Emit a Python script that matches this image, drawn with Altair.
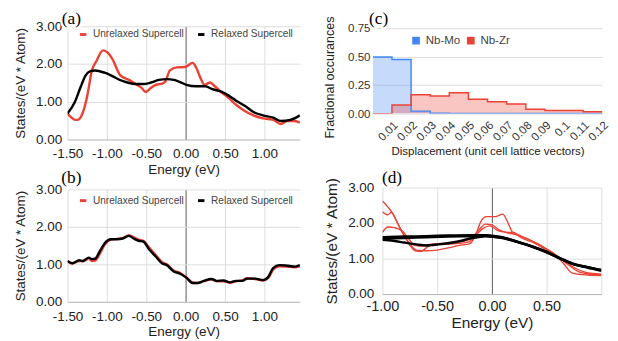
import altair as alt
import pandas as pd

FONT = "Liberation Sans"
SERIF = "Liberation Serif"
RED = "#ea4335"
BLUE = "#4285f4"
BLACK = "#000000"

# ---------------- panel (a) ----------------
a_unrel_E = [-1.50, -1.45, -1.40, -1.37, -1.33, -1.29, -1.25, -1.19, -1.13, -1.05, -0.99, -0.93, -0.83, -0.72,
             -0.62, -0.56, -0.51, -0.44, -0.38, -0.30, -0.26, -0.20, -0.11, -0.01, 0.09, 0.13, 0.19, 0.24, 0.31,
             0.37, 0.46, 0.54, 0.64, 0.74, 0.86, 0.98, 1.11, 1.21, 1.29, 1.37, 1.45]
a_unrel_V = [0.69, 0.58, 0.52, 0.52, 0.60, 0.81, 1.15, 1.83, 2.09, 2.36, 2.30, 2.13, 1.70, 1.58,
             1.45, 1.37, 1.26, 1.37, 1.45, 1.48, 1.53, 1.83, 1.91, 1.92, 2.03, 1.92, 1.62, 1.45, 1.51,
             1.41, 1.24, 1.11, 0.92, 0.77, 0.64, 0.56, 0.52, 0.41, 0.49, 0.49, 0.45]
a_rel_E = [-1.50, -1.41, -1.33, -1.27, -1.21, -1.15, -1.03, -0.95, -0.85, -0.74, -0.64, -0.54, -0.44, -0.34,
           -0.24, -0.15, -0.07, 0.01, 0.13, 0.25, 0.33, 0.46, 0.54, 0.64, 0.76, 0.86, 0.98, 1.11, 1.21, 1.33, 1.45]
a_rel_V = [0.69, 0.98, 1.41, 1.70, 1.81, 1.83, 1.77, 1.70, 1.59, 1.51, 1.47, 1.47, 1.51, 1.58,
           1.60, 1.58, 1.52, 1.45, 1.41, 1.41, 1.34, 1.26, 1.17, 1.03, 0.88, 0.73, 0.64, 0.58, 0.49, 0.52, 0.64]

# ---------------- panel (b) ----------------
b_E = [-1.50, -1.44, -1.35, -1.31, -1.28, -1.23, -1.19, -1.15, -1.09, -1.03, -0.95, -0.87, -0.80, -0.72,
       -0.66, -0.60, -0.54, -0.46, -0.38, -0.30, -0.24, -0.15, -0.07, 0.01, 0.09, 0.15, 0.23, 0.33, 0.39,
       0.48, 0.56, 0.64, 0.72, 0.78, 0.88, 0.98, 1.05, 1.11, 1.19, 1.27, 1.39, 1.45]
b_rel_V = [1.09, 1.03, 1.11, 1.09, 1.12, 1.18, 1.14, 1.15, 1.35, 1.56, 1.67, 1.67, 1.69, 1.76,
           1.69, 1.63, 1.61, 1.39, 1.21, 1.03, 0.98, 0.81, 0.75, 0.64, 0.50, 0.50, 0.56, 0.61, 0.56,
           0.57, 0.52, 0.56, 0.56, 0.62, 0.62, 0.58, 0.67, 0.90, 0.98, 0.97, 0.94, 0.98]
b_unrel_V = [1.08, 1.02, 1.09, 1.08, 1.10, 1.16, 1.09, 1.10, 1.28, 1.52, 1.66, 1.68, 1.70, 1.78,
             1.72, 1.66, 1.63, 1.44, 1.25, 1.06, 1.00, 0.83, 0.77, 0.65, 0.51, 0.50, 0.55, 0.60, 0.55,
             0.55, 0.51, 0.55, 0.57, 0.63, 0.61, 0.57, 0.64, 0.86, 0.95, 0.94, 0.92, 0.95]

# ---------------- panel (c) ----------------
c_disp = [0.01, 0.02, 0.03, 0.04, 0.05, 0.06, 0.07, 0.08, 0.09, 0.10, 0.11, 0.12]
c_nbmo = [0.497, 0.475, 0.022, 0.003, 0.002, 0.002, 0.002, 0.002, 0.002, 0.002, 0.002, 0.002]
c_nbzr = [0.0, 0.076, 0.166, 0.155, 0.183, 0.126, 0.104, 0.084, 0.039, 0.028, 0.028, 0.017]

# ---------------- panel (d) ----------------
d_red1_E = [-1.0, -0.95, -0.9, -0.85, -0.8, -0.75, -0.7, -0.65, -0.6, -0.55, -0.5, -0.4, -0.3, -0.2, -0.12,
            -0.06, 0.0, 0.07, 0.15, 0.2, 0.3, 0.4, 0.5, 0.6, 0.7, 0.78, 0.85, 0.92, 1.0]
d_red1_V = [2.62, 2.45, 2.24, 1.92, 1.64, 1.38, 1.22, 1.20, 1.30, 1.40, 1.42, 1.43, 1.47, 1.55, 1.80,
            1.97, 1.95, 1.80, 1.72, 1.69, 1.58, 1.44, 1.26, 1.07, 0.85, 0.70, 0.62, 0.58, 0.56]
d_red2_E = [-1.0, -0.95, -0.92, -0.87, -0.81, -0.75, -0.69, -0.6, -0.5, -0.4, -0.3, -0.2, -0.15, -0.1, -0.05,
            0.03, 0.1, 0.14, 0.19, 0.26, 0.38, 0.49, 0.58, 0.66, 0.73, 0.82, 1.0]
d_red2_V = [2.32, 2.23, 2.30, 2.05, 1.69, 1.41, 1.24, 1.22, 1.24, 1.30, 1.37, 1.42, 1.65, 2.05, 2.18,
            2.18, 2.25, 2.05, 1.74, 1.65, 1.47, 1.29, 1.11, 0.84, 0.60, 0.55, 0.52]
d_red3_E = [-1.0, -0.95, -0.89, -0.82, -0.76, -0.71, -0.65, -0.57, -0.45, -0.3, -0.21, -0.15, -0.08, -0.02,
            0.06, 0.14, 0.2, 0.26, 0.38, 0.5, 0.6, 0.7, 0.8, 0.9, 1.0]
d_red3_V = [1.74, 1.89, 1.87, 1.78, 1.56, 1.38, 1.35, 1.40, 1.40, 1.43, 1.47, 1.65, 1.85, 1.92,
            1.78, 1.74, 1.74, 1.60, 1.45, 1.24, 1.06, 0.82, 0.62, 0.56, 0.54]
d_blk1_E = [-1.0, -0.8, -0.6, -0.4, -0.2, -0.06, 0.0, 0.11, 0.23, 0.38, 0.49, 0.61, 0.73, 0.87, 1.0]
d_blk1_V = [1.60, 1.62, 1.63, 1.65, 1.66, 1.66, 1.64, 1.59, 1.48, 1.33, 1.20, 1.03, 0.87, 0.76, 0.67]
d_blk2_E = [-1.0, -0.9, -0.8, -0.69, -0.6, -0.49, -0.31, -0.19, -0.06, 0.0, 0.11, 0.23, 0.38, 0.49, 0.61,
            0.73, 0.87, 1.0]
d_blk2_V = [1.53, 1.50, 1.45, 1.40, 1.37, 1.40, 1.48, 1.57, 1.63, 1.62, 1.57, 1.47, 1.32, 1.19, 1.02,
            0.86, 0.75, 0.66]
d_blk3_E = [-1.0, -0.8, -0.6, -0.4, -0.2, -0.06, 0.0, 0.11, 0.23, 0.38, 0.49, 0.61, 0.73, 0.87, 1.0]
d_blk3_V = [1.56, 1.58, 1.60, 1.62, 1.63, 1.64, 1.62, 1.58, 1.47, 1.33, 1.20, 1.02, 0.86, 0.76, 0.68]

panel_labels = ["(a)", "(b)", "(c)", "(d)"]
dos_series = ["Unrelaxed Supercell", "Relaxed Supercell"]
comp_series = ["Nb-Mo", "Nb-Zr"]

MINUS_FIX = "replace(datum.label, '\u2212', '-')"
GRID = {"condition": {"test": "datum.value === 0", "value": "#555555"}, "value": "#dcdcdc"}
YGRID = {"condition": {"test": "datum.value === 0", "value": "#b0b0b0"}, "value": "#dcdcdc"}


def line_df(E, V, name):
    return pd.DataFrame({"E": E, "v": V, "series": name})


def label_layers(text, x, y):
    df = pd.DataFrame({"t": [text]})
    halo = alt.Chart(df).mark_text(font=SERIF, fontSize=18, stroke="white", strokeWidth=5,
                                   fill="white").encode(text="t:N", x=alt.value(x), y=alt.value(y))
    txt = alt.Chart(df).mark_text(font=SERIF, fontSize=18, color="#000").encode(
        text="t:N", x=alt.value(x), y=alt.value(y))
    return [halo, txt]


def dos_panel(E_un, V_un, E_re, V_re, label, width, height, ydom, leg_y, lab_y):
    xscale = alt.Scale(domain=[-1.5, 1.45], nice=False, zero=False)
    yscale = alt.Scale(domain=ydom, nice=False)
    xaxis = alt.Axis(values=[-1.5, -1, -0.5, 0, 0.5, 1], format=".2f", labelExpr=MINUS_FIX,
                     title="Energy (eV)", grid=True, gridColor=GRID, ticks=False, domain=False,
                     labelFontSize=14, titleFontSize=14, labelPadding=8, titlePadding=2,
                     labelColor="#222", titleColor="#222", titleFontWeight="normal",
                     labelFont=FONT, titleFont=FONT, labelFlush=False, labelOverlap=False)
    yaxis = alt.Axis(values=[0, 1, 2, 3], format=".2f", title="States/(eV * Atom)", grid=True,
                     gridColor=YGRID, ticks=False, domain=False, labelFontSize=14, titleFontSize=14,
                     labelPadding=6, titlePadding=9, labelColor="#222", titleColor="#222",
                     titleFontWeight="normal", labelFont=FONT, titleFont=FONT, labelOverlap=False)
    color = alt.Color("series:N", scale=alt.Scale(domain=dos_series, range=[RED, BLACK]),
                      legend=alt.Legend(orient="none", legendX=11, legendY=leg_y, direction="horizontal",
                                        title=None, symbolType="stroke", symbolStrokeWidth=3,
                                        symbolSize=45, labelFontSize=10.5, labelFont=FONT,
                                        labelColor="#444", columnPadding=7, labelOffset=5))
    red = alt.Chart(line_df(E_un, V_un, dos_series[0])).mark_line(
        strokeWidth=2.5, interpolate="monotone", clip=True).encode(
        x=alt.X("E:Q", scale=xscale, axis=xaxis), y=alt.Y("v:Q", scale=yscale, axis=yaxis), color=color)
    blk = alt.Chart(line_df(E_re, V_re, dos_series[1])).mark_line(
        strokeWidth=2.5, interpolate="monotone", clip=True).encode(
        x=alt.X("E:Q", scale=xscale, axis=xaxis), y=alt.Y("v:Q", scale=yscale, axis=yaxis), color=color)
    return alt.layer(red, blk, *label_layers(label, 4, lab_y)).properties(width=width, height=height)


a = dos_panel(a_unrel_E, a_unrel_V, a_rel_E, a_rel_V, panel_labels[0], 242, 118, [0, 3], 3, -7)
b = dos_panel(b_E, b_unrel_V, b_E, b_rel_V, panel_labels[1], 242, 117, [0, 3], 6, -12)

# ---- panel (c) step areas
rows = []
for name, vals in zip(comp_series, [c_nbmo, c_nbzr]):
    for i, dv in enumerate(c_disp):
        rows.append({"x": round(dv - 0.01, 2), "v": vals[i], "series": name})
    rows.append({"x": c_disp[-1], "v": vals[-1], "series": name})
dfc = pd.DataFrame(rows)

c_area = alt.Chart(dfc).mark_area(interpolate="step-after", fillOpacity=0.3,
                                  line={"strokeWidth": 1.5}, clip=True).encode(
    x=alt.X("x:Q", scale=alt.Scale(domain=[0, 0.12], nice=False, zero=False),
            axis=alt.Axis(values=c_disp, format="~g", labelAngle=-45, title="Displacement (unit cell lattice vectors)",
                          grid=False, ticks=False, domain=False, labelFontSize=12, titleFontSize=12,
                          labelPadding=6, titlePadding=3, labelColor="#333", titleColor="#222",
                          titleFontWeight="normal", labelFont=FONT, titleFont=FONT,
                          labelOverlap=False, labelFlush=False)),
    y=alt.Y("v:Q", stack=None, scale=alt.Scale(domain=[0, 0.7669], nice=False),
            axis=alt.Axis(values=[0, 0.25, 0.5, 0.75], format=".2f", title="Fractional occurances",
                          grid=True, gridColor="#dcdcdc", ticks=False, domain=False, labelFontSize=12,
                          titleFontSize=13, labelPadding=3, titlePadding=12, titleY=53, labelColor="#333",
                          titleColor="#222", titleFontWeight="normal", labelFont=FONT, titleFont=FONT,
                          labelOverlap=False, labelFlush=False)),
    color=alt.Color("series:N", scale=alt.Scale(domain=comp_series, range=[BLUE, RED]),
                    legend=alt.Legend(orient="none", legendX=39, legendY=9, direction="horizontal", title=None,
                                      symbolType="square", symbolSize=64, symbolStrokeWidth=0,
                                      labelFontSize=12, labelFont=FONT, labelColor="#444",
                                      columnPadding=4, labelOffset=4)),
)
c = alt.layer(c_area, *label_layers(panel_labels[2], 6, -7)).properties(width=239, height=91)

# ---- panel (d)
dfd_red = pd.concat([line_df(d_red1_E, d_red1_V, "r1"), line_df(d_red2_E, d_red2_V, "r2"),
                     line_df(d_red3_E, d_red3_V, "r3")])
dfd_blk = pd.concat([line_df(d_blk1_E, d_blk1_V, "b1"), line_df(d_blk2_E, d_blk2_V, "b2"),
                     line_df(d_blk3_E, d_blk3_V, "b3")])
dx = alt.X("E:Q", scale=alt.Scale(domain=[-1, 1], nice=False, zero=False),
           axis=alt.Axis(values=[-1, -0.5, 0, 0.5, 1], format=".2f",
                         labelExpr="datum.value >= 1 ? '' : " + MINUS_FIX,
                         title="Energy (eV)", grid=True, gridColor=GRID, ticks=False, domain=False,
                         labelFontSize=15, titleFontSize=16, labelPadding=5, titlePadding=2,
                         labelColor="#222", titleColor="#222", titleFontWeight="normal",
                         labelFont=FONT, titleFont=FONT, labelFlush=False, labelOverlap=False))
dy = alt.Y("v:Q", scale=alt.Scale(domain=[0, 3], nice=False),
           axis=alt.Axis(values=[0, 1, 2, 3], format=".2f", title="States/(eV * Atom)", grid=True,
                         gridColor=YGRID, ticks=False, domain=False, labelFontSize=14, titleFontSize=16,
                         labelPadding=9, titlePadding=9, labelColor="#222", titleColor="#222",
                         titleFontWeight="normal", labelFont=FONT, titleFont=FONT, labelOverlap=False))
d_red = alt.Chart(dfd_red).mark_line(color=RED, strokeWidth=1.4, interpolate="monotone", clip=True).encode(
    x=dx, y=dy, detail="series:N")
d_blk = alt.Chart(dfd_blk).mark_line(color=BLACK, strokeWidth=2.6, interpolate="monotone", clip=True).encode(
    x=dx, y=dy, detail="series:N")
d = alt.layer(d_red, d_blk, *label_layers(panel_labels[3], 10, -10)).properties(width=228, height=111)

chart = alt.concat(a, c, b, d, columns=2, align="none", spacing={"row": -7, "column": 24}).resolve_scale(
    color="independent").properties(
    padding={"left": 5, "top": -4, "right": 0, "bottom": 0}, background="white"
).configure_view(stroke=None)

chart.save("out.html", embed_options={"renderer": "svg", "actions": False})
